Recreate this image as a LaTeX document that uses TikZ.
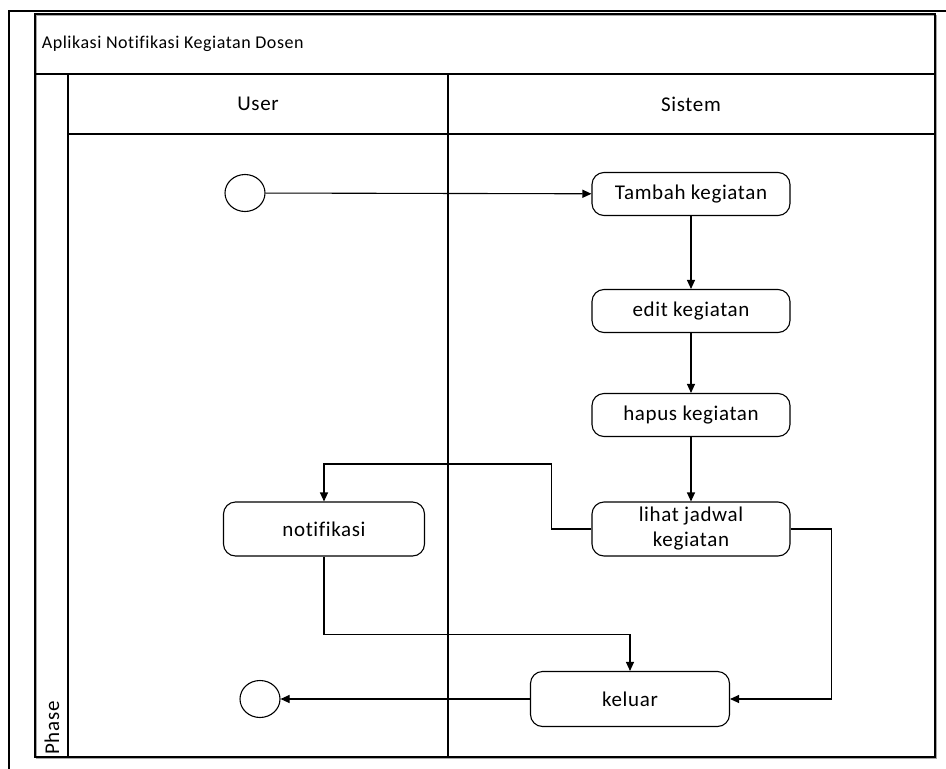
\documentclass[tikz,border=0pt]{standalone}
\usepackage{fontspec}
\setmainfont{Carlito}[LetterSpace=3, Ligatures=NoCommon]
\usetikzlibrary{positioning,arrows.meta,shapes.geometric}

\begin{document}
\begin{tikzpicture}[x=1pt, y=-1pt, line width=1.1pt, >={Triangle[length=9pt,width=8pt]},
    every node/.style={font=\fontsize{21}{25}\selectfont},
    act/.style={draw, rounded corners=12pt, fill=white, minimum width=198pt, minimum height=43pt, align=center, inner sep=2pt},
    initial/.style={draw, ellipse, minimum width=40pt, minimum height=37pt, inner sep=0pt}]
        \useasboundingbox (0,0) rectangle (946,769);

        % Outer frame and pool
        \draw[line width=2.4pt] (9,769) -- (9,11) -- (946,11);
        \draw[gray!70] (36.5,15.5) rectangle (936.5,758.5);
        \draw (35,14) rectangle (935,757);
        \draw (35,74) -- (935,74);
        \draw (68,74) -- (68,757);
        \draw (68,134) -- (935,134);
        \draw (448,74) -- (448,757);

        % Titles of pool, lanes and phase
        \node (title) [anchor=west, font=\fontsize{18}{22}\selectfont] at (38,44) {Aplikasi Notifikasi Kegiatan Dosen};
        \node (user) at (258,104) {User};
        \node (sistem) at (691,104) {Sistem};
        \node (phase) [rotate=90] at (52,728) {Phase};

        % Activities
        \node (start) [initial] at (245,193) {};
        \node (tambah) [act] at (691,194) {Tambah kegiatan};
        \node (edit) [act] at (691,311) {edit kegiatan};
        \node (hapus) [act] at (691,415) {hapus kegiatan};
        \node (lihat) [act, minimum height=54pt] at (691,529) {lihat jadwal\\kegiatan};
        \node (notif) [act, minimum width=201pt, minimum height=54pt] at (324,529) {notifikasi};
        \node (keluar) [act, minimum width=199pt, minimum height=55pt] at (630,699) {keluar};
        \node (end) [initial] at (260,699) {};

        % Flows
        \draw[->] (start) -- (tambah);
        \draw[->] (tambah) -- (edit);
        \draw[->] (edit) -- (hapus);
        \draw[->] (hapus) -- (lihat);
        \draw[->] (lihat.west) -- ++(-40,0) -- ++(0,-65) -| (notif.north);
        \draw[->] (notif.south) -- ++(0,78) -| (keluar.north);
        \draw[->] (lihat.east) -- ++(41,0) |- (keluar.east);
        \draw[->] (keluar) -- (end);
      \end{tikzpicture}
\end{document}
